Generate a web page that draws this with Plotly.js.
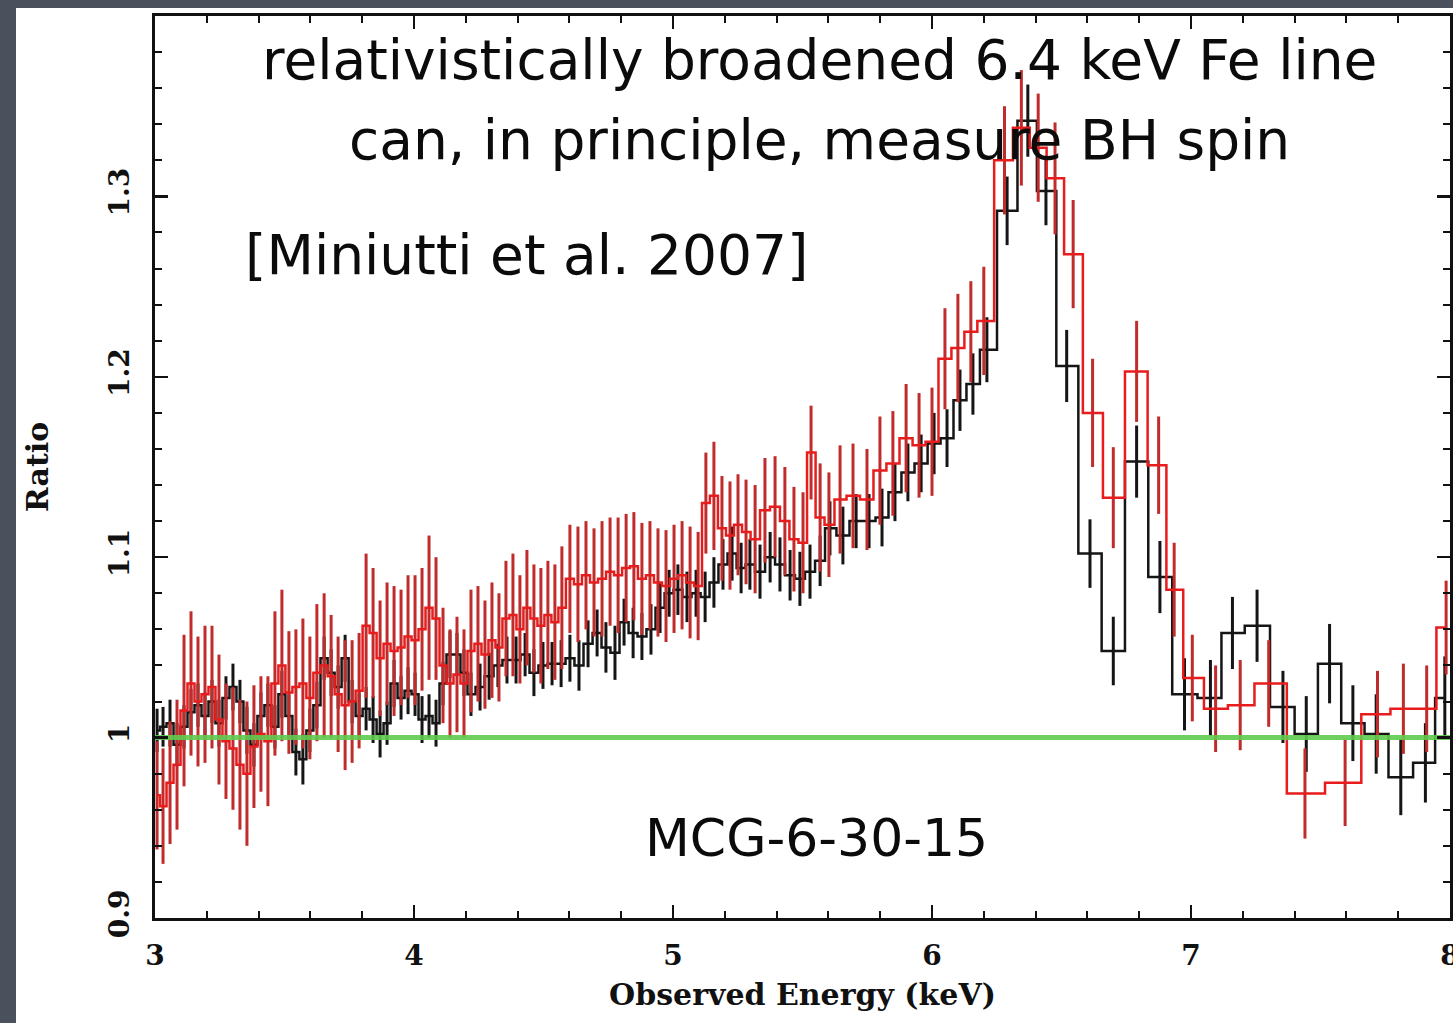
<!DOCTYPE html>
<html>
<head>
<meta charset="utf-8">
<script src="https://cdn.plot.ly/plotly-3.0.1.min.js"></script>
<style>
  html, body { margin: 0; padding: 0; background: #4b505d; }
  #chart { width: 1453px; height: 1023px; }
</style>
</head>
<body>
<div id="chart"></div>
<script>
// MCG-6-30-15: data/model ratio around the Fe K band, two spectra.

// Spectrum 1 (black): bin centre energy (keV), ratio, 1-sigma error
const blackEnergy = [
  3.008,3.031,3.058,3.085,3.112,3.139,3.166,3.193,3.220,3.247,
  3.274,3.301,3.328,3.355,3.382,3.409,3.436,3.463,3.490,3.517,
  3.544,3.571,3.598,3.625,3.653,3.680,3.707,3.734,3.761,3.788,
  3.815,3.842,3.869,3.896,3.923,3.950,3.977,4.004,4.031,4.058,
  4.085,4.112,4.139,4.166,4.193,4.220,4.255,4.290,4.324,4.359,
  4.394,4.429,4.463,4.498,4.533,4.568,4.602,4.637,4.672,4.707,
  4.741,4.776,4.811,4.846,4.880,4.915,4.950,4.985,5.019,5.054,
  5.089,5.124,5.158,5.193,5.228,5.263,5.297,5.336,5.375,5.413,
  5.452,5.490,5.529,5.568,5.606,5.656,5.707,5.757,5.807,5.857,
  5.907,5.958,6.008,6.058,6.108,6.158,6.212,
  6.290,6.370,6.440,6.520,6.610,6.700,6.790,6.880,
  6.975,7.075,7.160,7.255,7.355,7.445,7.535,7.625,7.715,7.810,
  7.905,7.980
];
const blackRatio = [
  1.004,1.006,1.008,0.996,1.006,1.014,1.018,1.012,1.020,1.008,
  1.022,1.028,1.020,1.004,0.996,1.012,1.018,1.006,1.024,1.012,
  0.992,0.988,1.004,1.018,1.044,1.036,1.028,1.044,1.020,1.012,
  1.016,1.010,1.002,1.008,1.030,1.022,1.026,1.024,1.010,1.012,
  1.008,1.030,1.046,1.046,1.036,1.024,1.028,1.034,1.040,1.043,
  1.043,1.046,1.036,1.040,1.041,1.041,1.044,1.040,1.052,1.058,
  1.050,1.047,1.064,1.058,1.056,1.060,1.072,1.080,1.082,1.078,
  1.080,1.078,1.086,1.096,1.102,1.094,1.096,1.092,1.100,1.096,
  1.090,1.088,1.092,1.098,1.116,1.112,1.120,1.120,1.122,1.136,
  1.147,1.152,1.163,1.166,1.187,1.196,1.215,
  1.292,1.342,1.303,1.206,1.102,1.048,1.153,1.089,
  1.024,1.022,1.058,1.062,1.017,1.002,1.041,1.008,1.002,0.978,
  0.986,1.022
];
const blackError = [
  0.012,0.011,0.013,0.012,0.012,0.013,0.012,0.013,0.012,0.013,
  0.012,0.013,0.012,0.013,0.012,0.013,0.012,0.012,0.013,0.012,
  0.013,0.014,0.012,0.013,0.012,0.013,0.012,0.013,0.012,0.013,
  0.012,0.013,0.013,0.012,0.013,0.012,0.013,0.012,0.013,0.012,
  0.013,0.012,0.013,0.012,0.013,0.012,0.013,0.013,0.012,0.013,
  0.013,0.012,0.013,0.013,0.012,0.013,0.013,0.014,0.013,0.013,
  0.014,0.015,0.013,0.014,0.013,0.014,0.014,0.013,0.014,0.014,
  0.013,0.014,0.014,0.014,0.015,0.014,0.014,0.015,0.014,0.015,
  0.014,0.015,0.015,0.014,0.015,0.016,0.015,0.015,0.016,0.016,
  0.016,0.016,0.017,0.016,0.017,0.017,0.018,
  0.019,0.020,0.019,0.020,0.019,0.019,0.020,0.020,
  0.020,0.021,0.020,0.020,0.020,0.021,0.022,0.021,0.022,0.021,
  0.022,0.023
];

// Spectrum 2 (red): bin centre energy (keV), ratio, 1-sigma error
const redEnergy = [
  3.008,3.031,3.058,3.085,3.112,3.139,3.166,3.193,3.220,3.247,
  3.274,3.301,3.328,3.355,3.382,3.409,3.436,3.463,3.490,3.517,
  3.544,3.571,3.598,3.625,3.653,3.680,3.707,3.734,3.761,3.788,
  3.815,3.842,3.869,3.896,3.923,3.950,3.977,4.004,4.031,4.058,
  4.085,4.112,4.139,4.166,4.193,4.220,4.247,4.274,4.301,4.328,
  4.355,4.382,4.409,4.436,4.463,4.490,4.517,4.544,4.571,4.602,
  4.633,4.664,4.695,4.726,4.757,4.788,4.819,4.849,4.880,4.911,
  4.942,4.973,5.004,5.035,5.066,5.097,5.127,5.158,5.189,5.220,
  5.251,5.282,5.317,5.355,5.394,5.432,5.467,5.502,5.533,5.568,
  5.602,5.645,5.695,5.749,5.799,5.849,5.900,5.950,6.000,6.050,
  6.100,6.150,6.200,
  6.280,6.345,6.410,6.475,6.545,6.620,6.700,6.790,6.875,6.935,
  7.005,7.095,7.190,7.300,7.440,7.595,7.720,7.820,7.910,7.985
];
const redRatio = [
  0.968,0.962,0.975,0.985,1.015,1.030,1.020,1.024,1.028,1.010,
  0.998,0.994,0.985,0.980,0.995,1.002,0.998,1.030,1.040,1.025,
  1.028,1.030,1.022,1.036,1.040,1.034,1.024,1.018,1.020,1.026,
  1.062,1.058,1.044,1.052,1.048,1.050,1.056,1.054,1.060,1.072,
  1.066,1.040,1.030,1.035,1.030,1.048,1.052,1.046,1.054,1.050,
  1.066,1.068,1.060,1.072,1.066,1.062,1.068,1.064,1.072,1.088,
  1.085,1.090,1.086,1.088,1.092,1.090,1.094,1.095,1.088,1.090,
  1.086,1.084,1.088,1.090,1.086,1.084,1.130,1.134,1.116,1.112,
  1.118,1.114,1.110,1.126,1.128,1.120,1.110,1.108,1.158,1.122,
  1.118,1.132,1.134,1.132,1.148,1.152,1.166,1.162,1.164,1.210,
  1.216,1.225,1.231,
  1.320,1.338,1.327,1.310,1.268,1.180,1.133,1.203,1.151,1.082,
  1.033,1.016,1.018,1.030,0.969,0.975,1.013,1.016,1.016,1.061
];
const redError = [
  0.030,0.032,0.034,0.036,0.042,0.040,0.036,0.038,0.034,0.036,
  0.032,0.034,0.036,0.040,0.034,0.032,0.036,0.040,0.042,0.034,
  0.032,0.036,0.034,0.038,0.040,0.034,0.032,0.036,0.034,0.032,
  0.040,0.036,0.032,0.034,0.036,0.032,0.034,0.036,0.034,0.040,
  0.034,0.032,0.030,0.032,0.030,0.034,0.032,0.030,0.032,0.030,
  0.032,0.034,0.030,0.032,0.030,0.032,0.030,0.032,0.034,0.030,
  0.032,0.030,0.030,0.032,0.030,0.032,0.030,0.030,0.031,0.030,
  0.030,0.031,0.030,0.030,0.031,0.030,0.028,0.030,0.029,0.030,
  0.028,0.029,0.030,0.029,0.028,0.030,0.029,0.028,0.026,0.030,
  0.029,0.030,0.029,0.028,0.030,0.029,0.030,0.029,0.030,0.028,
  0.030,0.028,0.030,
  0.030,0.032,0.030,0.031,0.030,0.030,0.028,0.028,0.027,0.026,
  0.024,0.024,0.025,0.024,0.025,0.024,0.024,0.025,0.024,0.026
];

// Continuum model: ratio of unity across the band
const modelEnergy = [3, 8];
const modelRatio = [1, 1];

// Axis ticks
const xTickValues = [3, 4, 5, 6, 7, 8];
const xTickLabels = ['3', '4', '5', '6', '7', '8'];
const yTickValues = [0.9, 1.0, 1.1, 1.2, 1.3];
const yTickLabels = ['0.9', '1', '1.1', '1.2', '1.3'];

// Slide text
const headline1 = 'relativistically broadened 6.4 keV Fe line';
const headline2 = 'can, in principle, measure BH spin';
const reference = '[Miniutti et al. 2007]';
const sourceName = 'MCG-6-30-15';

const inkColor = '#111111';
const labelFont = { family: 'DejaVu Serif', size: 28, color: inkColor, weight: 'bold' };
const headFont = { family: 'DejaVu Sans', size: 55, color: '#0b0b0b' };
const sourceFont = { family: 'DejaVu Sans', size: 52, color: '#0b0b0b' };

const traces = [
  {
    x: blackEnergy, y: blackRatio, type: 'scatter', mode: 'lines',
    line: { shape: 'hvh', color: '#151515', width: 2.5 },
    error_y: { type: 'data', array: blackError, visible: true, color: '#151515', thickness: 3, width: 0 },
    hoverinfo: 'skip'
  },
  {
    x: redEnergy, y: redRatio, type: 'scatter', mode: 'lines',
    line: { shape: 'hvh', color: '#e81c1c', width: 2.5 },
    error_y: { type: 'data', array: redError, visible: true, color: '#c02c2c', thickness: 3, width: 0 },
    hoverinfo: 'skip'
  },
  {
    x: modelEnergy, y: modelRatio, type: 'scatter', mode: 'lines',
    line: { color: '#5fcb4f', width: 5 }, opacity: 0.9,
    hoverinfo: 'skip'
  }
];

// plot area runs from x=155 to 1450 px and y=16 to 918 px
const plotW = 1295, plotH = 902;
const px = v => (v - 155) / plotW;
const py = v => (918 - v) / plotH;

const layout = {
  width: 1453, height: 1023,
  margin: { l: 155, r: 3, t: 16, b: 105, pad: 0 },
  paper_bgcolor: '#4b505d',
  plot_bgcolor: '#ffffff',
  showlegend: false,
  xaxis: {
    range: [3, 8], tickmode: 'array', tickvals: xTickValues, ticktext: xTickLabels,
    ticks: 'inside', ticklen: 13, tickwidth: 2.5, tickcolor: inkColor,
    showline: true, linewidth: 3, linecolor: inkColor, mirror: 'allticks',
    showgrid: false, zeroline: false, ticklabeloverflow: 'allow',
    minor: { dtick: 0.2, tick0: 3, ticks: 'inside', ticklen: 7, tickwidth: 2, tickcolor: inkColor, showgrid: false },
    tickfont: labelFont, ticklabelstandoff: 10,
    title: { text: 'Observed Energy (keV)', font: { family: 'DejaVu Serif', size: 30, color: inkColor, weight: 'bold' }, standoff: 14 }
  },
  yaxis: {
    range: [0.9, 1.4], tickmode: 'array', tickvals: yTickValues, ticktext: yTickLabels,
    tickangle: -90,
    ticks: 'inside', ticklen: 13, tickwidth: 2.5, tickcolor: inkColor,
    showline: true, linewidth: 3, linecolor: inkColor, mirror: 'allticks',
    showgrid: false, zeroline: false,
    minor: { dtick: 0.02, tick0: 0.9, ticks: 'inside', ticklen: 7, tickwidth: 2, tickcolor: inkColor, showgrid: false },
    tickfont: labelFont, ticklabelstandoff: 12,
    title: { text: 'Ratio', font: { family: 'DejaVu Serif', size: 30, color: inkColor, weight: 'bold' }, standoff: 46 }
  },
  shapes: [
    // white slide panel behind the figure
    { type: 'rect', xref: 'paper', yref: 'paper', layer: 'below',
      x0: px(16), x1: px(1470), y0: py(1040), y1: py(8),
      fillcolor: '#ffffff', line: { width: 0 } }
  ],
  annotations: [
    { text: headline1, xref: 'paper', yref: 'paper', x: px(819), y: py(60), xanchor: 'center', yanchor: 'middle', showarrow: false, font: headFont },
    { text: headline2, xref: 'paper', yref: 'paper', x: px(819), y: py(140), xanchor: 'center', yanchor: 'middle', showarrow: false, font: headFont },
    { text: reference, xref: 'paper', yref: 'paper', x: px(243), y: py(255), xanchor: 'left', yanchor: 'middle', showarrow: false, font: headFont },
    { text: sourceName, xref: 'paper', yref: 'paper', x: px(816), y: py(838), xanchor: 'center', yanchor: 'middle', showarrow: false, font: sourceFont }
  ]
};

Plotly.newPlot('chart', traces, layout, { staticPlot: true, displayModeBar: false });
</script>
</body>
</html>
